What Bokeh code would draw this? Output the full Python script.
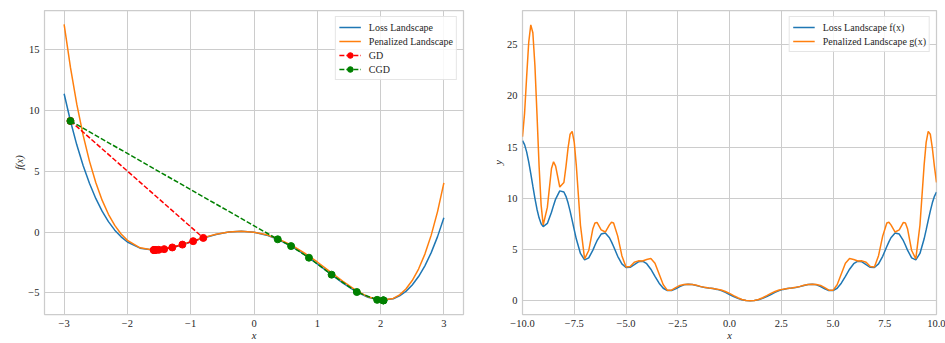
from bokeh.plotting import figure
from bokeh.layouts import row
from bokeh.models import FixedTicker, Range1d
from bokeh.embed import file_html
from bokeh.resources import INLINE

# ---------------- left panel data ----------------
X1 = [-3.0, -2.9, -2.8, -2.7, -2.6, -2.5, -2.4, -2.3, -2.2, -2.1, -2.0,
      -1.8, -1.6, -1.4, -1.2, -1.0, -0.8, -0.6, -0.4, -0.2, 0.0, 0.2, 0.4,
      0.6, 0.8, 1.0, 1.2, 1.4, 1.6, 1.8, 2.0, 2.2,
      2.3, 2.4, 2.5, 2.6, 2.7, 2.8, 2.9, 3.0]
LOSS1 = [11.4, 9.157, 7.195, 5.492, 4.027, 2.781, 1.736, 0.872, 0.173, -0.380, -0.8,
         -1.308, -1.464, -1.373, -1.125, -0.8, -0.466, -0.180, 0.014, 0.081, 0.0, -0.240, -0.639,
         -1.183, -1.848, -2.6, -3.391, -4.162, -4.844, -5.354, -5.6, -5.477,
         -5.242, -4.869, -4.344, -3.648, -2.765, -1.676, -0.361, 1.2]
PEN1 = [17.112, 13.563, 10.542, 7.990, 5.855, 4.087, 2.641, 1.478, 0.561, -0.146, -0.670,
        -1.283, -1.464, -1.365, -1.103, -0.771, -0.441, -0.164, 0.019, 0.081, 0.006, -0.215, -0.583,
        -1.090, -1.720, -2.448, -3.234, -4.025, -4.750, -5.315, -5.598, -5.447,
        -5.151, -4.670, -3.975, -3.030, -1.798, -0.238, 1.697, 4.056]
GD_X = [-2.9, -0.801, -0.961, -1.131, -1.291, -1.419, -1.504, -1.549, -1.571, -1.580, -1.584]
GD_Y = [9.157, -0.468, -0.733, -1.017, -1.252, -1.390, -1.445, -1.461, -1.464, -1.465, -1.465]
CGD_X = [-2.9, 0.375, 0.586, 0.868, 1.226, 1.625, 1.946, 2.049, 2.041, 2.042]
CGD_Y = [9.157, -0.581, -1.140, -2.096, -3.492, -4.920, -5.566, -5.608, -5.609, -5.609]
X1_TICKS = [-3, -2, -1, 0, 1, 2, 3]
X1_LABELS = ["\u22123", "\u22122", "\u22121", "0", "1", "2", "3"]
Y1_TICKS = [-5, 0, 5, 10, 15]
Y1_LABELS = ["\u22125", "0", "5", "10", "15"]

# ---------------- right panel data ----------------
X2 = [-10.0, -9.9, -9.8, -9.7, -9.6, -9.5, -9.4, -9.3, -9.2, -9.1, -9.0,
      -8.8, -8.6, -8.5, -8.4, -8.2, -8.0, -7.9, -7.8, -7.7, -7.6, -7.5, -7.4,
      -7.2, -7.0, -6.8, -6.6, -6.5, -6.4, -6.2, -6.0, -5.8, -5.7, -5.6, -5.4,
      -5.2, -5.0, -4.8, -4.6, -4.4, -4.2, -4.0, -3.8, -3.6, -3.4, -3.2, -3.0,
      -2.8, -2.6, -2.4, -2.2, -2.0, -1.8, -1.6, -1.4, -1.2, -1.0, -0.8, -0.6,
      -0.4, -0.2, 0.0, 0.2, 0.4, 0.6, 0.8, 1.0, 1.2, 1.4, 1.6, 1.8,
      2.0, 2.2, 2.4, 2.6, 2.8, 3.0, 3.2, 3.4, 3.6, 3.8, 4.0, 4.2,
      4.4, 4.6, 4.8, 5.0, 5.2, 5.4, 5.6, 5.8, 6.0, 6.2, 6.4, 6.6,
      6.8, 7.0, 7.2, 7.4, 7.6, 7.7, 7.8, 8.0, 8.2, 8.4, 8.5, 8.6,
      8.8, 9.0, 9.2, 9.4, 9.5, 9.6, 9.7, 9.8, 9.9, 10.0]
LOSS2 = [15.625, 15.247, 14.539, 13.564, 12.413, 11.190, 10.000, 8.943, 8.099, 7.525, 7.250,
         7.551, 8.655, 9.315, 9.931, 10.730, 10.625, 10.202, 9.564, 8.759, 7.854, 6.920, 6.029,
         4.628, 4.000, 4.190, 4.953, 5.420, 5.869, 6.516, 6.625, 6.159, 5.760, 5.298, 4.349,
         3.608, 3.250, 3.279, 3.542, 3.809, 3.873, 3.625, 3.088, 2.394, 1.724, 1.232, 1.000,
         1.013, 1.185, 1.402, 1.564, 1.625, 1.588, 1.493, 1.389, 1.307, 1.250, 1.197, 1.120,
         0.997, 0.826, 0.625, 0.422, 0.243, 0.109, 0.027, 0.0, 0.027, 0.109, 0.243, 0.422,
         0.625, 0.826, 0.997, 1.120, 1.197, 1.250, 1.307, 1.389, 1.493, 1.588, 1.625, 1.564,
         1.402, 1.185, 1.013, 1.000, 1.232, 1.724, 2.394, 3.088, 3.625, 3.873, 3.809, 3.542,
         3.279, 3.250, 3.608, 4.349, 5.298, 5.760, 6.159, 6.625, 6.516, 5.869, 5.420, 4.953,
         4.190, 4.000, 4.628, 6.029, 6.920, 7.854, 8.759, 9.564, 10.202, 10.625]
PEN2 = [16.011, 18.294, 21.858, 25.211, 26.927, 26.165, 22.964, 18.201, 13.223, 9.345, 7.406,
        9.118, 12.916, 13.570, 13.146, 11.109, 11.546, 13.092, 14.909, 16.262, 16.539, 15.462, 13.190,
        7.380, 4.100, 4.911, 7.047, 7.602, 7.647, 6.926, 6.718, 7.412, 7.668, 7.599, 6.319,
        4.405, 3.306, 3.361, 3.774, 3.903, 3.891, 4.039, 4.125, 3.663, 2.629, 1.569, 1.025,
        1.044, 1.299, 1.504, 1.598, 1.625, 1.602, 1.521, 1.412, 1.318, 1.256, 1.207, 1.144,
        1.052, 0.916, 0.732, 0.517, 0.306, 0.139, 0.035, 0.0, 0.035, 0.139, 0.306, 0.517,
        0.732, 0.916, 1.052, 1.144, 1.207, 1.256, 1.318, 1.412, 1.521, 1.602, 1.625, 1.598,
        1.504, 1.299, 1.044, 1.025, 1.569, 2.629, 3.663, 4.125, 4.039, 3.891, 3.903, 3.774,
        3.361, 3.306, 4.405, 6.319, 7.599, 7.668, 7.412, 6.718, 6.926, 7.647, 7.602, 7.047,
        4.911, 4.100, 7.380, 13.190, 15.462, 16.539, 16.262, 14.909, 13.092, 11.546]
X2_TICKS = [-10, -7.5, -5, -2.5, 0, 2.5, 5, 7.5, 10]
X2_LABELS = ["\u221210.0", "\u22127.5", "\u22125.0", "\u22122.5", "0.0", "2.5", "5.0", "7.5", "10.0"]
Y2_TICKS = [0, 5, 10, 15, 20, 25]
Y2_LABELS = ["0", "5", "10", "15", "20", "25"]

FONT = "Liberation Serif"
TXT = "#262626"
GRID = "#cccccc"
BLUE = "#1f77b4"
ORANGE = "#ff7f0e"


def style(p, xt, xl, yt, yl, xlabel, ylabel):
    p.background_fill_color = "white"
    p.border_fill_color = "white"
    p.outline_line_color = GRID
    p.outline_line_width = 1.25
    p.xaxis.ticker = FixedTicker(ticks=xt)
    p.yaxis.ticker = FixedTicker(ticks=yt)
    p.xaxis.major_label_overrides = {t: l for t, l in zip(xt, xl)}
    p.yaxis.major_label_overrides = {t: l for t, l in zip(yt, yl)}
    p.xaxis.axis_label = xlabel
    p.yaxis.axis_label = ylabel
    for ax in p.xaxis + p.yaxis:
        ax.axis_line_color = None
        ax.major_tick_line_color = None
        ax.minor_tick_line_color = None
        ax.major_tick_out = 0
        ax.major_tick_in = 0
        ax.minor_tick_out = 0
        ax.minor_tick_in = 0
        ax.major_label_text_font = FONT
        ax.major_label_text_font_size = "10.5px"
        ax.major_label_text_color = TXT
        ax.axis_label_text_font = FONT
        ax.axis_label_text_font_style = "italic"
        ax.axis_label_text_font_size = "10.5px"
        ax.axis_label_text_color = TXT
        ax.major_label_standoff = 5
        ax.axis_label_standoff = 0
    p.grid.grid_line_color = GRID
    p.grid.grid_line_width = 1


def style_legend(p):
    lg = p.legend[0]
    lg.location = "top_right"
    lg.margin = 6
    lg.padding = 3
    lg.spacing = 0
    lg.glyph_width = 22
    lg.glyph_height = 14
    lg.label_height = 14
    lg.label_standoff = 8
    lg.label_text_font = FONT
    lg.label_text_font_size = "10px"
    lg.label_text_color = TXT
    lg.border_line_color = GRID
    lg.border_line_width = 1
    lg.background_fill_alpha = 0.85


# ---------------- left figure ----------------
p1 = figure(width=470, height=343, output_backend="svg", toolbar_location=None,
            x_range=Range1d(-3.31, 3.31), y_range=Range1d(-6.77, 18.25),
            min_border_left=44, min_border_right=7, min_border_top=10, min_border_bottom=28)
style(p1, X1_TICKS, X1_LABELS, Y1_TICKS, Y1_LABELS, "x", "f(x)")
p1.line(X1, LOSS1, line_color=BLUE, line_width=1.5, legend_label="Loss Landscape")
p1.line(X1, PEN1, line_color=ORANGE, line_width=1.5, legend_label="Penalized Landscape")
p1.line(GD_X, GD_Y, line_color="red", line_width=1.5, line_dash="5 2", legend_label="GD")
p1.scatter(GD_X, GD_Y, size=7, fill_color="red", line_color="red", legend_label="GD")
p1.line(CGD_X, CGD_Y, line_color="green", line_width=1.5, line_dash="5 2", legend_label="CGD")
p1.scatter(CGD_X, CGD_Y, size=7, fill_color="green", line_color="green", legend_label="CGD")
style_legend(p1)

# ---------------- right figure ----------------
p2 = figure(width=475, height=343, output_backend="svg", toolbar_location=None,
            x_range=Range1d(-10, 10), y_range=Range1d(-1.33, 28.33),
            min_border_left=52, min_border_right=9, min_border_top=10, min_border_bottom=28)
style(p2, X2_TICKS, X2_LABELS, Y2_TICKS, Y2_LABELS, "x", "y")
p2.line(X2, LOSS2, line_color=BLUE, line_width=1.5, legend_label="Loss Landscape f(x)")
p2.line(X2, PEN2, line_color=ORANGE, line_width=1.5, legend_label="Penalized Landscape g(x)")
style_legend(p2)

layout = row(p1, p2)
open("out.html", "w").write(file_html(layout, INLINE))
